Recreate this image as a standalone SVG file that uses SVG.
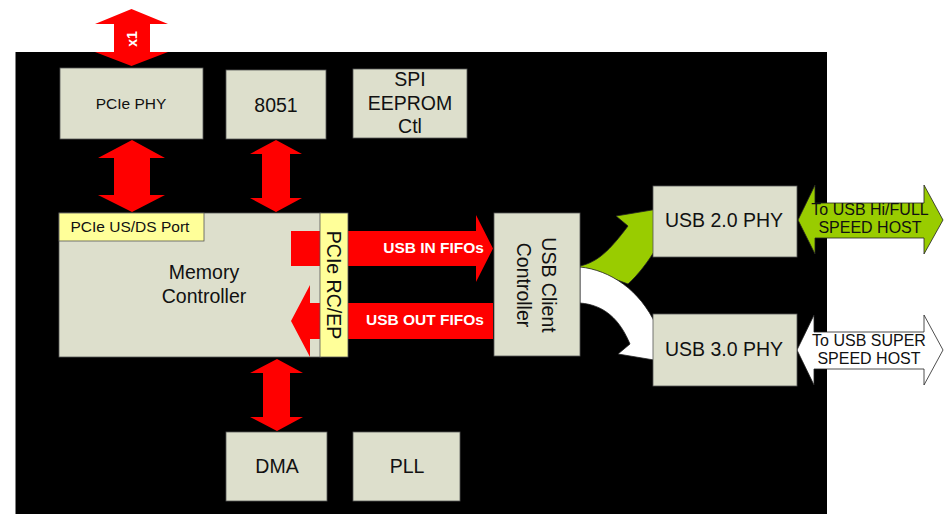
<svg xmlns="http://www.w3.org/2000/svg" width="945" height="514" viewBox="0 0 945 514">
<style>
.box{fill:#DDDFCC;stroke:#555;stroke-width:0.8}
.yel{fill:#FFFF99;stroke:#555;stroke-width:0.8}
.red{fill:#FF0000;stroke:none}
.t{font-family:"Liberation Sans",Arial,sans-serif;fill:#111;text-anchor:middle}
.big{font-size:19.5px}
.sm{font-size:16px}
.wb{font-family:"Liberation Sans",Arial,sans-serif;fill:#fff;font-weight:bold;font-size:15.5px}
</style>
<rect x="0" y="0" width="945" height="514" fill="#fff"/>
<rect id="chip" x="15.5" y="52" width="811.5" height="462" fill="#000"/>

<g id="connectors">
  <path id="x1-arrow" class="red" d="M131.5,9 L168,24 L150,24 L150,52 L168,52 L131.5,66 L95,52 L114,52 L114,24 L95,24 Z"/>
  <text class="wb" text-anchor="middle" transform="translate(131.5,39) rotate(-90)" y="5" style="font-size:14px">x1</text>
  <path id="phy-mem" class="red" d="M132,140 L165,158 L150,158 L150,195 L165,195 L132,212 L98,195 L114,195 L114,158 L98,158 Z"/>
  <path id="c8051-mem" class="red" d="M276,140 L302,154 L290,154 L290,198 L302,198 L276,212 L250,198 L262,198 L262,154 L250,154 Z"/>
  <path id="dma-mem" class="red" d="M277,359 L303,373 L290,373 L290,417 L303,417 L277,431 L250,417 L263,417 L263,373 L250,373 Z"/>
  <path id="green-curve" fill="#99CC00" stroke="#222" stroke-width="0.8" d="M580,266 C598,262 610,250 628,226 L616,216 L664,208 L670,256 L657,247 C648,262 638,275 628,284 C612,278 595,272 580,270 Z"/>
  <path id="white-curve" fill="#fff" stroke="#222" stroke-width="0.8" d="M580,267 C610,270 640,290 656,325 L672,314 L666,362 L618,354 L630,344 C620,320 605,305 580,303 Z"/>
  <path id="hi-full-arrow" fill="#99CC00" stroke="#222" stroke-width="0.8" d="M798,220 L815,185 L815,203 L924,203 L924,185 L943,220 L924,254 L924,238 L815,238 L815,254 Z"/>
  <text class="t sm" x="870" y="215">To USB Hi/FULL</text>
  <text class="t sm" x="870" y="233">SPEED HOST</text>
  <path id="super-arrow" fill="#fff" stroke="#222" stroke-width="0.8" d="M797,350 L814,315 L814,332 L924,332 L924,315 L943,350 L924,385 L924,369 L814,369 L814,385 Z"/>
  <text class="t sm" x="869" y="346">To USB SUPER</text>
  <text class="t sm" x="869" y="364">SPEED HOST</text>
</g>

<g id="pcie-phy"><rect class="box" x="60" y="68" width="143" height="71"/><text class="t" style="font-size:15.5px" x="131" y="109">PCIe PHY</text></g>
<g id="n8051"><rect class="box" x="226" y="70" width="100" height="69"/><text class="t big" x="276" y="111.5">8051</text></g>
<g id="spi"><rect class="box" x="353" y="69" width="114" height="69"/>
  <text class="t big" x="410" y="86">SPI</text><text class="t big" x="410" y="110">EEPROM</text><text class="t big" x="410" y="133">Ctl</text></g>

<g id="memory-controller">
  <rect class="box" x="59" y="213" width="262" height="144"/>
  <text class="t big" x="204" y="279">Memory</text>
  <text class="t big" x="204" y="303">Controller</text>
</g>
<g id="pcie-usds"><rect class="yel" x="59" y="213" width="145" height="28"/><text class="t" style="font-size:15.5px;text-anchor:start" x="70.5" y="232">PCIe US/DS Port</text></g>

<g id="fifo-arrows">
  <path id="in-fifo" class="red" d="M291,231 L476,231 L476,215 L493,248.5 L476,282 L476,266 L291,266 Z"/>
  <path id="out-fifo" class="red" d="M493,303 L310,303 L310,285 L291,321 L310,357 L310,339 L493,339 Z"/>
  <text class="wb" x="484" y="253" text-anchor="end">USB IN FIFOs</text>
  <text class="wb" x="484" y="325" text-anchor="end">USB OUT FIFOs</text>
</g>

<g id="pcie-rcep"><rect class="yel" x="320" y="213" width="28" height="144"/><text class="t big" transform="translate(334,285) rotate(90)" x="0" y="7">PCIe RC/EP</text></g>

<g id="usb-client"><rect class="box" x="494" y="213" width="86" height="143"/>
  <text class="t big" transform="translate(537,285) rotate(90)" x="0" y="-4.7">USB Client</text>
  <text class="t big" transform="translate(537,285) rotate(90)" x="0" y="19.7">Controller</text></g>

<g id="usb2-phy"><rect class="box" x="653" y="186" width="144" height="71"/><text class="t big" x="724" y="227">USB 2.0 PHY</text></g>
<g id="usb3-phy"><rect class="box" x="653" y="314" width="144" height="72"/><text class="t big" x="724" y="356">USB 3.0 PHY</text></g>

<g id="dma"><rect class="box" x="226" y="432" width="101" height="69"/><text class="t big" x="277" y="473">DMA</text></g>
<g id="pll"><rect class="box" x="353" y="432" width="107" height="69"/><text class="t big" x="407" y="473">PLL</text></g>
</svg>
